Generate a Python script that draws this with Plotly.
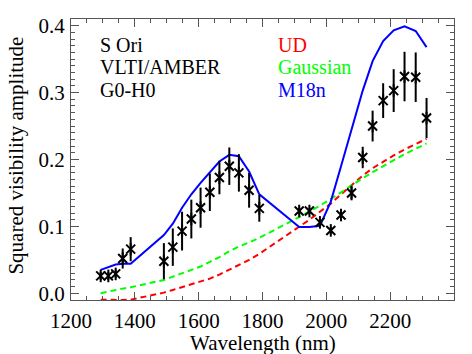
import plotly.graph_objects as go

# wavelengths (nm) of the AMBER channels
wavelength = [1293, 1317, 1340, 1362, 1387, 1491, 1519, 1548, 1577, 1606, 1635,
              1665, 1696, 1726, 1758, 1790, 1915, 1947, 1980, 2014, 2046, 2079,
              2114, 2145, 2178, 2211, 2245, 2280, 2314]

# measured squared visibilities and errors
vis2 = [0.026, 0.026, 0.029, 0.052, 0.066, 0.048, 0.069, 0.093, 0.111, 0.128, 0.151,
        0.173, 0.190, 0.180, 0.154, 0.127, 0.123, 0.123, 0.106, 0.094, 0.117, 0.150,
        0.203, 0.250, 0.288, 0.303, 0.324, 0.323, 0.262]
vis2_err = [0.006, 0.006, 0.006, 0.015, 0.018, 0.027, 0.028, 0.029, 0.029, 0.030, 0.028,
            0.025, 0.028, 0.028, 0.026, 0.020, 0.005, 0.005, 0.005, 0.005, 0.005, 0.011,
            0.016, 0.023, 0.026, 0.032, 0.037, 0.037, 0.030]

# model fits
ud = [-0.0095, -0.0098, -0.010, -0.010, -0.0095, 0.001, 0.005, 0.009, 0.013, 0.018, 0.022,
      0.028, 0.035, 0.042, 0.050, 0.059, 0.099, 0.110, 0.122, 0.134, 0.148, 0.162,
      0.176, 0.187, 0.197, 0.206, 0.215, 0.223, 0.231]
gaussian = [0.000, 0.003, 0.005, 0.007, 0.009, 0.020, 0.025, 0.030, 0.035, 0.040, 0.047,
            0.054, 0.063, 0.070, 0.076, 0.083, 0.114, 0.122, 0.131, 0.141, 0.151, 0.162,
            0.172, 0.181, 0.190, 0.199, 0.208, 0.216, 0.224]
m18n = [0.035, 0.039, 0.043, 0.044, 0.044, 0.087, 0.104, 0.128, 0.148, 0.165, 0.180,
        0.197, 0.207, 0.205, 0.182, 0.148, 0.099, 0.099, 0.101, 0.137, 0.190, 0.246,
        0.303, 0.347, 0.377, 0.393, 0.399, 0.392, 0.368]

info_lines = ["S Ori", "VLTI/AMBER", "G0-H0"]
legend_lines = [("UD", "#ff0000"), ("Gaussian", "#00ff00"), ("M18n", "#0000ff")]

FONT = "Liberation Serif"
AX = "#555"

# the page body has an 8px margin, so the figure is made that much smaller
PAGE_PAD = 8

fig = go.Figure()

fig.add_trace(go.Scatter(x=wavelength, y=ud, mode="lines",
                         line=dict(color="#ff0000", width=2, dash="6px,4px")))
fig.add_trace(go.Scatter(x=wavelength, y=gaussian, mode="lines",
                         line=dict(color="#00ff00", width=2, dash="6px,4px")))
fig.add_trace(go.Scatter(x=wavelength, y=m18n, mode="lines",
                         line=dict(color="#0000ff", width=2)))

# data: asterisks with error bars
fig.add_trace(go.Scatter(x=wavelength, y=vis2, mode="markers",
                         marker=dict(symbol="x-thin-open", size=9, color="black",
                                     line=dict(color="black", width=2)),
                         error_y=dict(type="data", array=vis2_err, color="black",
                                      thickness=2, width=0)))
fig.add_trace(go.Scatter(x=wavelength, y=vis2, mode="markers",
                         marker=dict(symbol="line-ns-open", size=9, color="black",
                                     line=dict(color="black", width=2))))
# empty trace so the mirrored top/right axes get drawn
fig.add_trace(go.Scatter(x=[None], y=[None], xaxis="x2", yaxis="y2", hoverinfo="skip"))

# positions below are in window pixels; plot area spans x 71..454, y 14..300
def px_x(x):
    return (x - 71) / 383

def px_y(y):
    return (300 - y) / 286

y_rows = [40, 63, 86]
for txt, yp in zip(info_lines, y_rows):
    fig.add_annotation(text=txt, xref="paper", yref="paper", x=px_x(98), y=px_y(yp),
                       xanchor="left", yanchor="middle", showarrow=False,
                       font=dict(family=FONT, size=20, color="black"))
for (txt, col), yp in zip(legend_lines, y_rows):
    fig.add_annotation(text=txt, xref="paper", yref="paper", x=px_x(276), y=px_y(yp),
                       xanchor="left", yanchor="middle", showarrow=False,
                       font=dict(family=FONT, size=20, color=col))

# axis titles
fig.add_annotation(text="Wavelength (nm)", xref="paper", yref="paper",
                   x=0.5, y=px_y(344), xanchor="center", yanchor="middle",
                   showarrow=False, font=dict(family=FONT, size=21, color="black"))
fig.add_annotation(text="Squared visibility amplitude", xref="paper", yref="paper",
                   x=px_x(16), y=px_y(153), xanchor="center",
                   yanchor="middle", textangle=-90, showarrow=False,
                   font=dict(family=FONT, size=21, color="black"))

axis_common = dict(showgrid=False, zeroline=False, showline=True, linecolor=AX,
                   linewidth=1, ticks="inside", tickcolor=AX, tickwidth=1, ticklen=8,
                   tickfont=dict(family=FONT, size=21, color="black"))

xticks = [1200, 1400, 1600, 1800, 2000, 2200, 2400]
yticks = [0.0, 0.1, 0.2, 0.3, 0.4]
xminor = dict(dtick=50, tick0=1200, ticks="inside", ticklen=4, tickcolor=AX)
yminor = dict(dtick=0.01, tick0=0, ticks="inside", ticklen=4, tickcolor=AX)

fig.update_layout(
    width=472 - PAGE_PAD, height=354 - PAGE_PAD, showlegend=False,
    font=dict(family=FONT, color="black"),
    margin=dict(l=71 - PAGE_PAD, r=18, t=14 - PAGE_PAD, b=54),
    paper_bgcolor="white", plot_bgcolor="white",
    xaxis=dict(range=[1200, 2400], tickvals=xticks, ticklabelstandoff=2,
               minor=xminor, **axis_common),
    yaxis=dict(range=[-0.01, 0.41], tickvals=yticks, tickformat=".1f",
               ticklabelstandoff=1, minor=yminor, **axis_common),
    xaxis2=dict(range=[1200, 2400], tickvals=xticks, overlaying="x", side="top",
                showticklabels=False, minor=xminor, **axis_common),
    yaxis2=dict(range=[-0.01, 0.41], tickvals=yticks, overlaying="y", side="right",
                showticklabels=False, minor=yminor, **axis_common),
)

fig.write_html("out.html")
